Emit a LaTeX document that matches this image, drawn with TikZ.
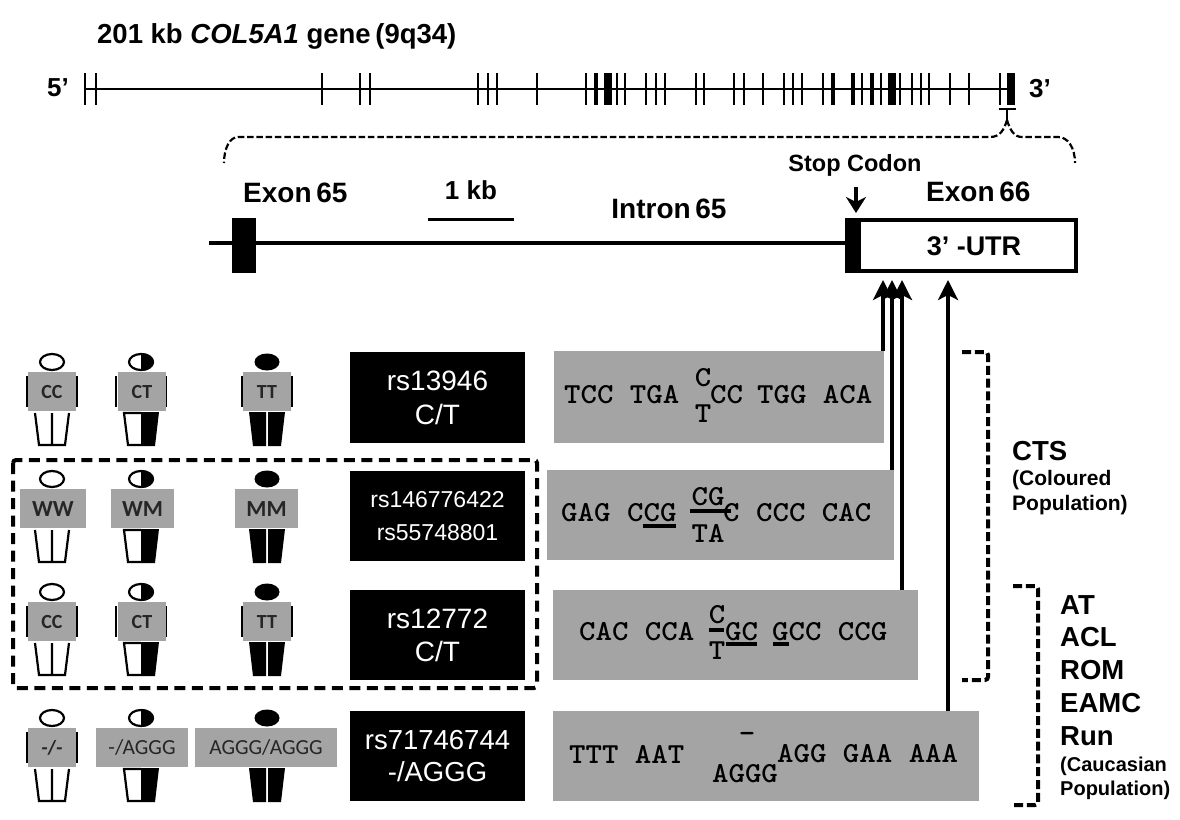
\documentclass[tikz,border=0pt]{standalone}
\usepackage{fontspec}
\setmainfont{Liberation Sans}
\newfontfamily\calib{Carlito}
\usetikzlibrary{arrows.meta}
\definecolor{gr}{HTML}{A4A4A4}
\newcommand\fs[1]{\fontsize{#1}{#1}\selectfont}
\newcommand\sqf{\fs{29}\ttfamily\bfseries}
\tikzset{
  txt/.style={inner sep=0pt,text=black,font=\fs{#1}\bfseries},
  seqt/.style={inner sep=0pt,anchor=west,font=\sqf,xscale=1.08},
  seqc/.style={inner sep=0pt,font=\sqf,xscale=1.08},
  seqbox/.style={fill=gr,inner sep=0pt},
  rsbox/.style={fill=black,text=white,inner sep=0pt,align=center},
  lab/.style={fill=gr,inner sep=0pt,text=black!85},
  tick/.style={line width=#1},
  tick/.default=2.6pt,
  uline/.style={line width=3.4pt},
  upar/.style={line width=3.4pt,-{Stealth[length=20pt,width=20pt,inset=5pt]}},
  brk/.style={line width=4pt,dash pattern=on 9pt off 3.8pt},
  brace/.style={line width=2.2pt,dash pattern=on 6.5pt off 2.8pt},
}
% name, x, head y, type, label, left, right, arms (1/0), font
\newcommand\psn[9]{%
  \pgfmathsetmacro\bw{#7-(#6)}\pgfmathsetmacro\bc{(#7+#6)/2}%
  \begin{scope}[shift={(#2,#3)}]
    \ifcase#4
      \draw[line width=2.2pt,fill=white] (0,0) ellipse [x radius=12,y radius=8];
      \draw[line width=2.2pt] (-17,51) -- (-13,83) -- (13,83) -- (17,51) (0,51) -- (0,83);
    \or
      \draw[line width=2.2pt,fill=white] (0,0) ellipse [x radius=12,y radius=8];
      \begin{scope}
        \clip (0,-11) rectangle (15,11);
        \fill (0,0) ellipse [x radius=13,y radius=9];
      \end{scope}
      \draw[line width=2.2pt] (0,51) -- (-17,51) -- (-13,83) -- (0,83);
      \fill (0,50) -- (18,50) -- (14,84) -- (0,84) -- cycle;
    \or
      \fill (0,0) ellipse [x radius=12.5,y radius=8.5];
      \fill (-1,50) -- (-18,50) -- (-14,84) -- (-1,84) -- cycle;
      \fill (1,50) -- (18,50) -- (14,84) -- (1,84) -- cycle;
    \fi
    \ifnum#8=1
      \draw[line width=2.4pt] (-25,14) -- (-25,45) (25,14) -- (25,45);
    \fi
  \end{scope}
  \node[lab,minimum width=\bw pt,minimum height=39.5pt,font=#9] (#1) at (\bc,#3+29.7) {#5};%
}
\begin{document}
\begin{tikzpicture}[x=1pt,y=-1pt]
\useasboundingbox (0,0) rectangle (1180,819);
\fill[white] (0,0) rectangle (1180,819);

% ---- gene overview
\node[txt=27.5,anchor=west] (title) at (97,36) {201 kb \textit{COL5A1} gene\,(9q34)};
\node[txt=26,anchor=west] (fivep) at (47,88) {5’};
\node[txt=26,anchor=west] (threep) at (1029,89) {3’};
\coordinate (gs) at (85,89); \coordinate (ge) at (1011,89);
\draw[line width=2.6pt] (gs) -- (ge);
\foreach \x in {85,96,322,360,370,478,488,497,537,586,617,625,646,656,665,696,704,734,744,763,784,793,802,823,881,900,929,950,969,1000}
  \draw[tick] (\x,73) -- (\x,105);
\foreach \x in {596,833,853,872}
  \draw[tick=4.4pt] (\x,73) -- (\x,105);
\foreach \x in {608,892,1011}
  \draw[tick=7.5pt] (\x,73) -- (\x,105);
\foreach \x in {862,912,921}
  \draw[tick=1.3pt] (\x,73) -- (\x,105);

% ---- brace
\coordinate (bpk) at (1007,120);
\draw[line width=2.2pt] (999,109) -- (1016,109);
\draw[line width=2.2pt] (1007,109) -- (bpk);
\draw[brace] (bpk) .. controls (1004,130) and (1000,137) .. (990,137) -- (238,137) .. controls (230,137) and (224,148) .. (224,163);
\draw[brace] (bpk) .. controls (1010,130) and (1014,137) .. (1022,137) -- (1058,137) .. controls (1068,137) and (1075,148) .. (1075,163);

% ---- detail
\coordinate (ds) at (209,243);
\node[fill=black,minimum width=24pt,minimum height=55pt,inner sep=0pt] (ex65) at (244,245.5) {};
\draw[line width=3.4pt] (ds) -- (845,243);
\coordinate (sa) at (428,219.5); \coordinate (sb) at (514,219.5);
\draw[line width=3.4pt] (sa) -- (sb);
\node[txt=28,anchor=west] (lex65) at (243,193) {Exon\,65};
\node[txt=26] (l1kb) at (471,190) {1 kb};
\node[txt=28] (lint) at (669,209) {Intron\,65};
\node[txt=23.5] (lstop) at (855,165) {Stop Codon};
\node[txt=28,anchor=west] (lex66) at (926,192) {Exon\,66};
\draw[line width=4pt,fill=white] (847,220) rectangle (1076,271);
\fill (845,218) rectangle (861,273);
\node[txt=27] (utr) at (974,246) {3’ -UTR};
\coordinate (stoptip) at (856,213);
\draw[line width=3.2pt,-{Stealth[length=16pt,width=20pt,inset=5pt]}] (856,187) -- (stoptip);

% ---- sequence boxes
\node[seqbox,minimum width=330pt,minimum height=92pt] (s1) at (719,397) {};
\node[seqbox,minimum width=347pt,minimum height=90pt] (s2) at (720.5,515) {};
\node[seqbox,minimum width=365pt,minimum height=90pt] (s3) at (735.5,635) {};
\node[seqbox,minimum width=426pt,minimum height=90pt] (s4) at (766,756) {};

% ---- arrows
\coordinate (t1) at (883,280); \coordinate (t2) at (892,280);
\coordinate (t3) at (902,280); \coordinate (t4) at (948,280);
\draw[upar] (t1 |- s1.north) -- (t1);
\draw[upar] (t2 |- s2.north) -- (t2);
\draw[upar] (t3 |- s3.north) -- (t3);
\draw[upar] (t4 |- s4.north) -- (t4);

% ---- sequences
\node[seqt] (a1) at (564,395) {TCC TGA};
\node[seqc] (a2) at (703,378) {C};
\node[seqc] (a3) at (703,414) {T};
\node[seqt] (a4) at (710,395) {CC};
\node[seqt] (a5) at (757,395) {TGG ACA};

\node[seqt] (b1) at (561,513) {GAG};
\node[seqt] (b2) at (627,513) {CCG};
\node[seqc] (b3) at (708,497) {CG};
\node[seqc] (b4) at (708,533) {TA};
\node[seqt] (b5) at (723,513) {C};
\node[seqt] (b6) at (756,513) {CCC CAC};
\draw[uline] (643,526) -- (676,526);
\draw[uline] (690,511) -- (731,511);

\node[seqt] (c1) at (579,632) {CAC CCA};
\node[seqc] (c2) at (717,615) {C};
\node[seqc] (c3) at (717,651) {T};
\node[seqt] (c4) at (725,632) {GC};
\node[seqt] (c5) at (772,632) {GCC CCG};
\draw[uline] (709,630) -- (724,630);
\draw[uline] (726,644) -- (757,644);
\draw[uline] (773,644) -- (789,644);

\node[seqt] (d1) at (569,754) {TTT AAT};
\node[seqc] (d2) at (747,737) {-};
\node[seqc] (d3) at (745,774) {AGGG};
\node[seqt] (d4) at (777,754) {AGG GAA AAA};

% ---- rs boxes
\node[rsbox,minimum width=175pt,minimum height=91pt,font=\fs{28}] (r1) at (437.5,397.5) {rs13946\\[6pt]C/T};
\node[rsbox,minimum width=175pt,minimum height=90pt,font=\fs{23}] (r2) at (437.5,516) {rs146776422\\[10pt]rs55748801};
\node[rsbox,minimum width=175pt,minimum height=90pt,font=\fs{28}] (r3) at (437.5,635) {rs12772\\[5pt]C/T};
\node[rsbox,minimum width=175pt,minimum height=90pt,font=\fs{27.5}] (r4) at (437.5,756) {rs71746744\\[4pt]-/AGGG};

% ---- people
\def\lbf{\calib\fs{20}\bfseries}
\def\lwf{\calib\fs{23}\bfseries}
\def\lrf{\calib\fs{21.5}}
\psn{p11}{52}{362}{0}{CC}{28}{76}{1}{\lbf}
\psn{p12}{141}{362}{1}{CT}{118}{166}{1}{\lbf}
\psn{p13}{267}{362}{2}{TT}{243}{291}{1}{\lbf}
\psn{p21}{52}{479}{0}{WW}{20}{86}{0}{\lwf}
\psn{p22}{141}{479}{1}{WM}{111}{174}{0}{\lwf}
\psn{p23}{267}{479}{2}{MM}{235}{298}{0}{\lwf}
\psn{p31}{52}{592}{0}{CC}{28}{76}{1}{\lbf}
\psn{p32}{141}{592}{1}{CT}{118}{166}{1}{\lbf}
\psn{p33}{267}{592}{2}{TT}{243}{291}{1}{\lbf}
\psn{p41}{52}{718}{0}{-/-}{28}{76}{1}{\lbf}
\psn{p42}{141}{718}{1}{-/AGGG}{96}{188}{0}{\lrf}
\psn{p43}{267}{718}{2}{AGGG/AGGG}{195}{337}{0}{\lrf}

% ---- dashed frames
\draw[line width=4pt,dash pattern=on 11pt off 6.5pt,rounded corners=3pt] (13,460) rectangle (537,688);
\coordinate (k1) at (962,352); \coordinate (k2) at (962,680);
\coordinate (k3) at (1013,586); \coordinate (k4) at (1013,805);
\draw[brk,rounded corners=3pt] (k1) -- (988,352) -- (988,680) -- (k2);
\draw[brk,rounded corners=3pt] (k3) -- (1038,586) -- (1038,805) -- (k4);

% ---- phenotypes
\node[txt=27.5,anchor=west] (cts) at (1012,451) {CTS};
\node[txt=21,anchor=west] (cp1) at (1012,480) {(Coloured};
\node[txt=21,anchor=west] (cp2) at (1012,505) {Population)};
\node[txt=27.5,anchor=west] (at) at (1060,605) {AT};
\node[txt=27.5,anchor=west] (acl) at (1060,637) {ACL};
\node[txt=27.5,anchor=west] (rom) at (1060,670) {ROM};
\node[txt=27.5,anchor=west] (eamc) at (1060,703) {EAMC};
\node[txt=27.5,anchor=west] (run) at (1060,736) {Run};
\node[txt=20,anchor=west] (ca1) at (1060,766) {(Caucasian};
\node[txt=20,anchor=west] (ca2) at (1060,790) {Population)};
\end{tikzpicture}
\end{document}
